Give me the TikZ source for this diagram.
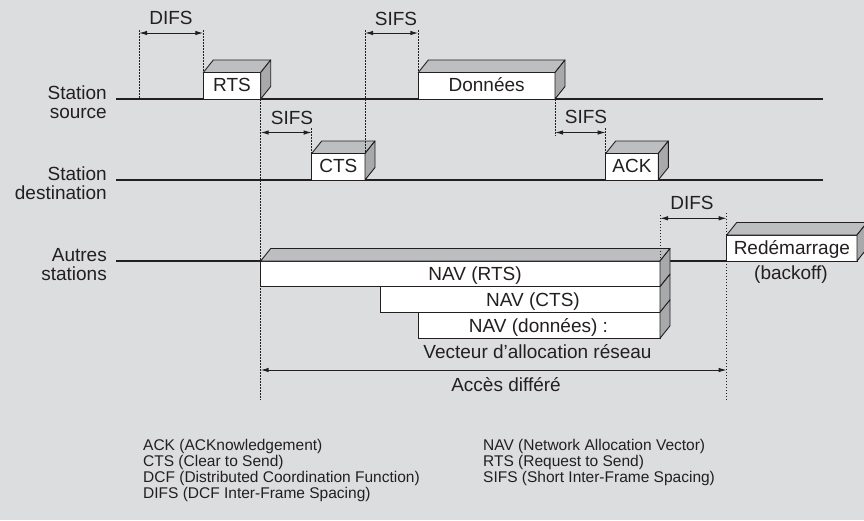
\documentclass[tikz,border=0pt]{standalone}
\usepackage{fontspec}
\setmainfont{Liberation Sans}
\usetikzlibrary{arrows.meta,calc}

\definecolor{bggray}{HTML}{DCDDDF}
\definecolor{ink}{HTML}{231F20}
\definecolor{facetop}{HTML}{BDBEC0}
\definecolor{faceside}{HTML}{A8A9AB}

\newcommand{\lblfont}{\fontsize{19}{19}\selectfont}
\newcommand{\legfont}{\fontsize{15.5}{16}\selectfont}

\begin{document}
\begin{tikzpicture}[
    x=1pt, y=-1pt,
    % Frames sent on the time lines (front face of the block)
    frame/.style={draw=ink, fill=white, line width=0.9pt, inner sep=0pt, outer sep=0pt, minimum height=26.5pt, anchor=south west, font=\lblfont, text=ink, text height=14pt, text depth=2pt},
    navbar/.style={draw=ink, fill=white, line width=0.9pt, inner sep=0pt, outer sep=0pt, minimum height=25.7pt, anchor=north west},
    % Faces giving the 3D look
    topface/.style={draw=ink, fill=facetop, line width=0.9pt, line join=round},
    sideface/.style={draw=ink, fill=faceside, line width=0.9pt, line join=round},
    % Lines
    timeline/.style={draw=ink, line width=1.2pt},
    guide/.style={draw=ink, line width=0.9pt, dash pattern=on 1.5pt off 1.5pt},
    span/.style={draw=ink, line width=1pt, {Latex[length=8pt,width=4.5pt]}-{Latex[length=8pt,width=4.5pt]}},
    % Texts
    lbl/.style={font=\lblfont, text=ink, inner sep=0pt},
    legend/.style={font=\legfont, text=ink, inner sep=0pt, anchor=base west},
]

% Background and size
\fill[bggray] (0,0) rectangle (864,520);
\useasboundingbox (0,0) rectangle (864,520);

% === TIME LINES ===
\coordinate (src-w) at (116,99);  \coordinate (src-e) at (823,99);
\coordinate (dst-w) at (116,180); \coordinate (dst-e) at (823,180);
\coordinate (oth-w) at (116,261); \coordinate (oth-e) at (823,261);
\foreach \n in {src,dst,oth}
    \draw[timeline] (\n-w) -- (\n-e);

\foreach \y/\la/\lb/\n in {99/Station/source/src, 180/Station/destination/dst, 261/Autres/stations/oth} {
    \node[lbl, anchor=base east] (\n-a) at (107,\y) {\la};
    \node[lbl, anchor=base east] (\n-b) at (107,{\y+19.5}) {\lb};
}

% === FRAMES ===
\node[frame, minimum width=57.4pt] (rts) at (203.3,99) {RTS};
\node[frame, minimum width=136.7pt] (donnees) at (418.3,99) {Données};
\node[frame, minimum width=53.3pt] (cts) at (311.7,180) {CTS};
\node[frame, minimum width=52.6pt] (ack) at (605.7,180) {ACK};
\node[frame, minimum width=130.3pt, minimum height=26pt] (restart) at (726.7,261) {Redémarrage};

% NAV bars
\node[navbar, minimum width=399.3pt] (navrts) at (260.7,261) {};
\node[navbar, minimum width=279.3pt] (navcts) at (380.7,286.7) {};
\node[navbar, minimum width=241.3pt, minimum height=26pt] (navdon) at (418.7,312.3) {};

% 3D faces
\foreach \n in {rts,donnees,cts,ack,restart,navrts}
    \draw[topface] (\n.north west) -- ++(10,-12.5) -- ([shift={(10,-12.5)}]\n.north east) -- (\n.north east) -- cycle;
\foreach \n in {rts,donnees,cts,ack,restart,navrts,navcts,navdon}
    \draw[sideface] (\n.north east) -- ++(10,-12.5) -- ([shift={(10,-12.5)}]\n.south east) -- (\n.south east) -- cycle;

% === GUIDES ===
\coordinate (top) at (139,30);
\coordinate (low) at (0,400);
\draw[guide] (top) -- (top |- src-w);
\draw[guide] (rts.north west |- top) -- (rts.north west);
\draw[guide] (cts.north east |- top) -- (cts.north east);
\draw[guide] (donnees.north west |- top) -- (donnees.north west);
\draw[guide] (rts.south east) -- (rts.south east |- low);
\draw[guide] (cts.north west) -- ++(0,-26);
\draw[guide] (donnees.south east) -- ++(0,37);
\draw[guide] (ack.north west) -- ++(0,-26);
\draw[guide] (navrts.north east) -- ++(0,-48);
\draw[guide] (restart.north west |- low) -- ++(0,-187);

% === SPANS ===
\coordinate (lvl-top) at (0,33);
\coordinate (lvl-mid) at (0,132.5);
\coordinate (lvl-nav) at (0,218.3);
\coordinate (lvl-low) at (0,370);
\draw[span] (top |- lvl-top) -- (rts.north west |- lvl-top);
\draw[span] (cts.north east |- lvl-top) -- (donnees.north west |- lvl-top);
\draw[span] (rts.south east |- lvl-mid) -- (cts.north west |- lvl-mid);
\draw[span] (donnees.south east |- lvl-mid) -- (ack.north west |- lvl-mid);
\draw[span] (navrts.north east |- lvl-nav) -- (restart.north west |- lvl-nav);
\draw[span] (rts.south east |- lvl-low) -- (restart.north west |- lvl-low);

% === LABELS ===
\node[lbl, anchor=base] (difs-a) at (171,24) {DIFS};
\node[lbl, anchor=base] (sifs-a) at (396,25) {SIFS};
\node[lbl, anchor=base] (sifs-b) at (292,124) {SIFS};
\node[lbl, anchor=base] (sifs-c) at (586,123.3) {SIFS};
\node[lbl, anchor=base] (difs-b) at (692,209.3) {DIFS};
\node[lbl, anchor=base] (backoff) at (791,279) {(backoff)};
\node[lbl, anchor=base] (navrts-t) at (475,280) {NAV (RTS)};
\node[lbl, anchor=base] (navcts-t) at (533,306) {NAV (CTS)};
\node[lbl, anchor=base] (navdon-t) at (538.5,332.3) {NAV (données) :};
\node[lbl, anchor=base] (vector) at (537.5,358.3) {Vecteur d’allocation réseau};
\node[lbl, anchor=base] (deferred) at (506,391.7) {Accès différé};

% === LEGEND ===
\foreach \txt [count=\i] in {ACK (ACKnowledgement), CTS (Clear to Send), DCF (Distributed Coordination Function), DIFS (DCF Inter-Frame Spacing)}
    \node[legend] (leg-l\i) at (143,{450.5+16*(\i-1)}) {\txt};
\foreach \txt [count=\i] in {NAV (Network Allocation Vector), RTS (Request to Send), SIFS (Short Inter-Frame Spacing)}
    \node[legend] (leg-r\i) at (483,{450.5+16*(\i-1)}) {\txt};

\end{tikzpicture}
\end{document}
